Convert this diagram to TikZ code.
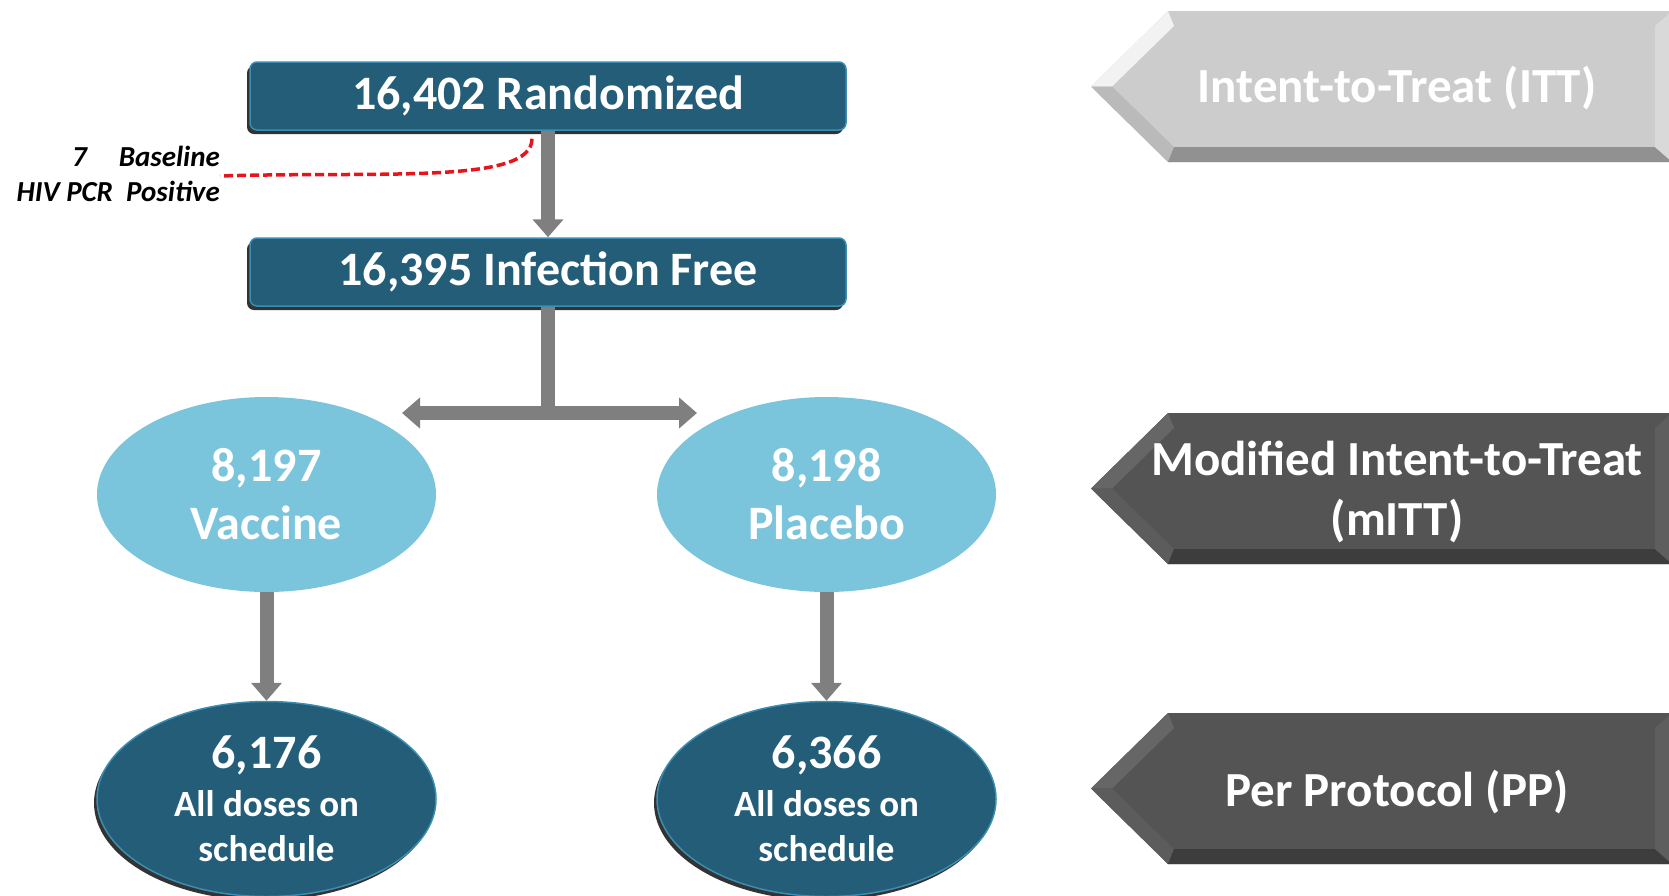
\documentclass[tikz,border=0pt]{standalone}
\usepackage{fontspec}
\setmainfont{Carlito}
\usetikzlibrary{arrows.meta,shapes.geometric,shadows,calc}
\definecolor{boxteal}{HTML}{235D77}
\definecolor{boxedge}{HTML}{3C8DB2}
\definecolor{armblue}{HTML}{7BC5DC}
\definecolor{flowgray}{HTML}{7F7F7F}
\definecolor{dashred}{HTML}{E8141B}
\def\bevelarrow#1#2#3#4#5#6#7{%
	\pgfmathsetmacro\bmid{(#1+#2)/2}
	\fill[#3] (1091,\bmid) -- (1168,#1) -- (1672,#1) -- (1672,#2) -- (1168,#2) -- cycle;
	\fill[#4] (1091,\bmid) -- (1168,#1) -- (1174,#1+15) -- (1112,\bmid) -- cycle;
	\fill[#5] (1091,\bmid) -- (1112,\bmid) -- (1174,#2-15) -- (1168,#2) -- cycle;
	\fill[#6] (1168,#2) -- (1174,#2-15) -- (1655,#2-15) -- (1672,#2) -- cycle;
	\fill[#7] (1655,#1+15) -- (1672,#1) -- (1672,#2) -- (1655,#2-15) -- cycle;
}
\tikzset{
	stagebox/.style={rectangle, rounded corners=7pt, fill=boxteal, draw=boxedge, line width=1.5pt,
		minimum width=596pt, minimum height=68pt, text=white, font=\fontsize{48}{58}\selectfont\bfseries,
		drop shadow={shadow xshift=-3pt, shadow yshift=-4pt, fill=black!80, opacity=1}},
	armoval/.style={ellipse, fill=armblue, minimum width=339pt, minimum height=195pt, inner sep=0pt,
		text=white, align=center, font=\fontsize{48}{58}\selectfont\bfseries},
	ppoval/.style={armoval, fill=boxteal, draw=boxedge, line width=1.5pt,
		font=\fontsize{37}{45}\selectfont\bfseries,
		drop shadow={shadow xshift=-3pt, shadow yshift=-4pt, fill=black!80, opacity=1}},
	flow/.style={draw=flowgray, line width=14pt, -{Triangle[width=30pt,length=18pt]}},
	stem/.style={draw=flowgray, line width=14pt},
	redline/.style={draw=dashred, line width=3.5pt, dash pattern=on 9pt off 4pt},
	note/.style={align=right, inner sep=0pt, font=\fontsize{29}{35}\selectfont\bfseries\itshape},
	bannertext/.style={text=white, align=center, font=\fontsize{49}{60}\selectfont\bfseries},
}

\begin{document}
\begin{tikzpicture}[x=1pt, y=-1pt]
			%%%%% START %%%%%
			\useasboundingbox (0,0) rectangle (1669,895);
			
			\bevelarrow{11}{162}{black!20}{black!5}{black!27}{black!43}{black!15}
			\bevelarrow{413}{564}{black!67}{black!60}{black!64}{black!76}{black!63}
			\bevelarrow{713}{864}{black!67}{black!60}{black!64}{black!76}{black!63}
			
			\node[bannertext] (itt) at (1397,88) {Intent-to-Treat (ITT)};
			\node[bannertext] (mitt) at (1397,492) {Modified Intent-to-Treat\\(mITT)};
			\node[bannertext] (pp) at (1397,792) {Per Protocol (PP)};
			
			\node[stagebox] (rand) at (548,96) {16,402 Randomized};
			\node[stagebox] (inf) at (548,272) {16,395 Infection Free};
			\draw[flow] (rand) -- (inf);
			
			\node[note, anchor=east] (pcr) at (220,174) {7\hspace{1.1em}Baseline\\HIV PCR\ \ Positive};
			\draw[redline] ($(rand.south)+(-16,8)$) .. controls +(0,46) and +(160,-5) .. ($(pcr.east)+(0,2)$);
			
			\coordinate (split) at (548,413);
			\coordinate (vl) at (402,413);
			\coordinate (vr) at (697,413);
			\draw[stem] (inf.south) -- (split);
			\draw[flow] (split) -- (vl);
			\draw[flow] (split) -- (vr);
			
			\node[armoval] (vac) at (266.5,494.5) {8,197\\Vaccine};
			\node[armoval] (plc) at (826.5,494.5) {8,198\\Placebo};
			
			\node[ppoval] (vacpp) at (266.5,799) {{\fontsize{48}{48}\selectfont 6,176}\\[3pt]All doses on\\schedule};
			\node[ppoval] (plcpp) at (826.5,799) {{\fontsize{48}{48}\selectfont 6,366}\\[3pt]All doses on\\schedule};
			\draw[flow] (vac) -- (vacpp);
			\draw[flow] (plc) -- (plcpp);
			
			%%%%% END %%%%%
\end{tikzpicture}
\end{document}
